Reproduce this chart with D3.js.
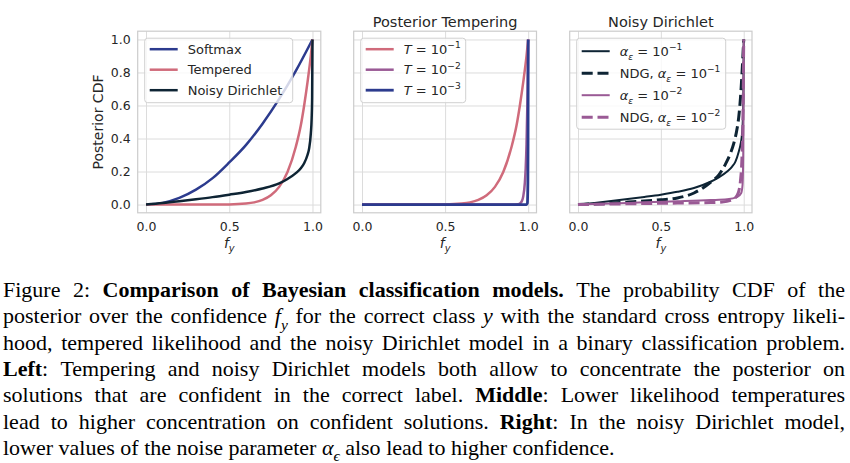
<!DOCTYPE html>
<html>
<head>
<meta charset="utf-8">
<script src="https://cdn.jsdelivr.net/npm/d3@7"></script>
<style>
  body { margin: 0; background: #fff; }
  svg { display: block; }
</style>
</head>
<body>
<svg id="fig" width="850" height="463"></svg>
<script>
// ---- data ----
const xTickValues = [0, 0.5, 1];
const yTickValues = [0, 0.2, 0.4, 0.6, 0.8, 1];

// left: posterior CDF of the three models
const softmaxFy  = [0, 0.1, 0.2, 0.3, 0.4, 0.5, 0.6, 0.7, 0.8, 0.9, 1.0];
const softmaxCdf = [0, 0.01, 0.04, 0.09, 0.16, 0.255, 0.36, 0.49, 0.64, 0.81, 1.0];

const temperedFy  = [0, 0.3, 0.5, 0.6, 0.65, 0.7, 0.75, 0.8, 0.85, 0.9, 0.93, 0.95, 0.97, 0.99, 1.0];
const temperedCdf = [0, 0, 0.001, 0.006, 0.013, 0.028, 0.056, 0.107, 0.197, 0.35, 0.48, 0.6, 0.74, 0.9, 1.0];

const noisyFy  = [0, 0.1, 0.2, 0.3, 0.4, 0.5, 0.6, 0.7, 0.8, 0.85, 0.9, 0.93, 0.95, 0.97, 0.98, 0.99, 0.995, 0.998, 1.0];
const noisyCdf = [0, 0.009, 0.02, 0.032, 0.045, 0.06, 0.076, 0.097, 0.128, 0.155, 0.19, 0.22, 0.25, 0.3, 0.34, 0.43, 0.52, 0.65, 1.0];

// middle: tempering at three temperatures (T = 1e-1 is the tempered curve above)
const temp2Fy  = [0, 0.9, 0.94, 0.96, 0.97, 0.98, 0.985, 0.99, 0.995, 1.0];
const temp2Cdf = [0, 0, 0.002, 0.017, 0.048, 0.133, 0.22, 0.366, 0.606, 1.0];
const temp3Fy  = [0, 0.99, 0.995, 0.998, 0.999, 1.0];
const temp3Cdf = [0, 0, 0.007, 0.135, 0.368, 1.0];

// right: noisy Dirichlet and its Gaussian approximation (NDG)
const nd1Fy  = [0, 0.1, 0.2, 0.3, 0.4, 0.5, 0.6, 0.7, 0.8, 0.85, 0.9, 0.93, 0.95, 0.97, 0.98, 0.99, 0.995, 0.998, 1.0];
const nd1Cdf = [0, 0.01, 0.021, 0.033, 0.046, 0.06, 0.077, 0.1, 0.138, 0.165, 0.2, 0.23, 0.26, 0.32, 0.36, 0.43, 0.52, 0.65, 1.0];
const ndg1Fy  = [0, 0.1, 0.2, 0.3, 0.4, 0.5, 0.6, 0.7, 0.8, 0.85, 0.89, 0.92, 0.94, 0.96, 0.97, 0.98, 0.99, 1.0];
const ndg1Cdf = [0, 0.004, 0.009, 0.015, 0.021, 0.029, 0.04, 0.07, 0.135, 0.18, 0.245, 0.31, 0.37, 0.46, 0.53, 0.64, 0.8, 1.0];
const nd2Fy  = [0, 0.2, 0.4, 0.6, 0.8, 0.9, 0.96, 0.985, 0.993, 0.997, 1.0];
const nd2Cdf = [0, 0.006, 0.014, 0.02, 0.027, 0.032, 0.045, 0.07, 0.12, 0.3, 1.0];
const ndg2Fy  = [0, 0.2, 0.4, 0.6, 0.8, 0.87, 0.92, 0.94, 0.96, 0.97, 0.98, 0.99, 0.995, 1.0];
const ndg2Cdf = [0, 0.003, 0.006, 0.009, 0.012, 0.015, 0.025, 0.035, 0.055, 0.08, 0.14, 0.3, 0.5, 1.0];

const captionLines = [
  "Figure 2: <b>Comparison of Bayesian classification models.</b> The probability CDF of the",
  "posterior over the confidence <i>f</i><sub>y</sub> for the correct class <i>y</i> with the standard cross entropy likeli-",
  "hood, tempered likelihood and the noisy Dirichlet model in a binary classification problem.",
  "<b>Left</b>: Tempering and noisy Dirichlet models both allow to concentrate the posterior on",
  "solutions that are confident in the correct label. <b>Middle</b>: Lower likelihood temperatures",
  "lead to higher concentration on confident solutions. <b>Right</b>: In the noisy Dirichlet model,",
  "lower values of the noise parameter <i>α</i><sub>ϵ</sub> also lead to higher confidence."
];

// ---- styles ----
const blue = "#2c3b8e", pink = "#d06b7b", navy = "#0e2434", purple = "#9a5a95";
const sans = "DejaVu Sans, sans-serif";
const ink = "#262626";

const zip = (xs, ys) => xs.map((v, i) => [v, ys[i]]);

// legend labels: arrays of [style, text] pieces (n normal, i italic, sub, sup)
const tLabel = e => [["i", "T"], ["n", " = 10"], ["sup", "−" + e]];
const aLabel = (pre, e) => (pre ? [["n", pre]] : []).concat([["i", "α"], ["sub", "ε"], ["n", " = 10"], ["sup", "−" + e]]);

const panels = [
  {
    x0: 137.7, x1: 320.8, title: null, yTicks: true, legendW: 148, legendRow: 20.5,
    series: [
      {data: zip(softmaxFy, softmaxCdf), color: blue, w: 2.5, label: [["n", "Softmax"]]},
      {data: zip(temperedFy, temperedCdf), color: pink, w: 2.5, label: [["n", "Tempered"]]},
      {data: zip(noisyFy, noisyCdf), color: navy, w: 2.5, label: [["n", "Noisy Dirichlet"]]}
    ]
  },
  {
    x0: 353.7, x1: 536.5, title: "Posterior Tempering", legendW: 105, legendRow: 20.5,
    series: [
      {data: zip(temperedFy, temperedCdf), color: pink, w: 2.5, label: tLabel(1)},
      {data: zip(temp2Fy, temp2Cdf), color: purple, w: 2.5, label: tLabel(2)},
      {data: zip(temp3Fy, temp3Cdf), color: blue, w: 2.8, label: tLabel(3)}
    ]
  },
  {
    x0: 569.7, x1: 752, title: "Noisy Dirichlet", legendW: 149, legendRow: 22,
    series: [
      {data: zip(nd1Fy, nd1Cdf), color: navy, w: 2, label: aLabel(null, 1)},
      {data: zip(ndg1Fy, ndg1Cdf), color: navy, w: 3, dash: "11,4.8", label: aLabel("NDG, ", 1)},
      {data: zip(nd2Fy, nd2Cdf), color: purple, w: 2, label: aLabel(null, 2)},
      {data: zip(ndg2Fy, ndg2Cdf), color: purple, w: 3, dash: "11,4.8", label: aLabel("NDG, ", 2)}
    ]
  }
];

const svg = d3.select("#fig");
const yTop = 31.2, yBottom = 212.8;
const y = d3.scaleLinear().domain([-0.05, 1.05]).range([yBottom, yTop]);

let addPieces = (textSel, pieces, base) => {
    let shift = 0;
    pieces.forEach(([style, txt]) => {
        const ts = textSel.append("tspan").text(txt);
        if (style === "i" || style === "sub") ts.attr("font-style", "italic");
        if (style === "b") ts.attr("font-weight", "bold");
        let want = style === "sub" ? base * 0.3 : style === "sup" ? -base * 0.42 : 0;
        if (style === "sub" || style === "sup") ts.attr("font-size", base * 0.7);
        if (want !== shift) { ts.attr("dy", want - shift); shift = want; }
    });
};

panels.forEach(p => {
    const x = d3.scaleLinear().domain([-0.05, 1.05]).range([p.x0, p.x1]);
    const g = svg.append("g").attr("font-family", sans);

    // grid
    g.append("g").attr("transform", `translate(0,${yBottom})`)
        .call(d3.axisBottom(x).tickValues(xTickValues).tickSize(-(yBottom - yTop)).tickFormat(""))
        .call(a => a.select(".domain").remove())
        .selectAll("line").attr("stroke", "#dcdcdc").attr("stroke-width", 1);
    g.append("g").attr("transform", `translate(${p.x0},0)`)
        .call(d3.axisLeft(y).tickValues(yTickValues).tickSize(-(p.x1 - p.x0)).tickFormat(""))
        .call(a => a.select(".domain").remove())
        .selectAll("line").attr("stroke", "#dcdcdc").attr("stroke-width", 1);

    // frame
    g.append("rect")
        .attr("x", p.x0).attr("y", yTop)
        .attr("width", p.x1 - p.x0).attr("height", yBottom - yTop)
        .attr("fill", "none").attr("stroke", "#cccccc").attr("stroke-width", 1.2);

    // tick labels
    const xa = g.append("g").attr("transform", `translate(0,${yBottom})`)
        .call(d3.axisBottom(x).tickValues(xTickValues).tickFormat(d3.format(".1f")).tickSize(0));
    xa.select(".domain").remove();
    xa.selectAll("text").attr("y", 18.6).attr("dy", 0)
        .attr("font-family", sans).attr("font-size", 12.5).attr("fill", ink);

    if (p.yTicks) {
        const ya = g.append("g").attr("transform", `translate(${p.x0},0)`)
            .call(d3.axisLeft(y).tickValues(yTickValues).tickFormat(d3.format(".1f")).tickSize(0).tickPadding(7));
        ya.select(".domain").remove();
        ya.selectAll("text").attr("font-family", sans).attr("font-size", 12.5).attr("fill", ink);
        g.append("text")
            .attr("transform", `translate(103,${(yTop + yBottom) / 2}) rotate(-90)`)
            .attr("text-anchor", "middle").attr("font-size", 14).attr("fill", ink)
            .text("Posterior CDF");
    }

    // x label f_y
    const xl = g.append("text")
        .attr("x", x(0.5)).attr("y", 248)
        .attr("text-anchor", "middle").attr("font-size", 14).attr("fill", ink);
    addPieces(xl, [["i", "f"], ["sub", "y"]], 14);

    if (p.title) {
        g.append("text")
            .attr("x", x(0.5)).attr("y", 26.5)
            .attr("text-anchor", "middle").attr("font-size", 14.5).attr("fill", ink)
            .text(p.title);
    }

    // curves
    const line = d3.line().x(d => x(d[0])).y(d => y(d[1])).curve(d3.curveMonotoneX);
    g.selectAll("path.curve").data(p.series).join("path")
        .attr("class", "curve")
        .attr("d", s => line(s.data))
        .attr("fill", "none")
        .attr("stroke", s => s.color)
        .attr("stroke-width", s => s.w)
        .attr("stroke-dasharray", s => s.dash || null)
        .attr("stroke-linejoin", "round");

    // legend
    const lx = p.x0 + 7, ly = yTop + 7;
    const lh = p.series.length * p.legendRow + 3;
    const lg = g.append("g");
    lg.append("rect")
        .attr("x", lx).attr("y", ly).attr("width", p.legendW).attr("height", lh)
        .attr("rx", 3).attr("fill", "#fff").attr("fill-opacity", 0.8)
        .attr("stroke", "#d0d0d0").attr("stroke-width", 1);
    p.series.forEach((s, i) => {
        const cy = ly + 11 + i * p.legendRow + (p.legendRow > 21 ? 2 : 0);
        lg.append("line")
            .attr("x1", lx + 5).attr("x2", lx + 33).attr("y1", cy).attr("y2", cy)
            .attr("stroke", s.color).attr("stroke-width", s.w)
            .attr("stroke-dasharray", s.dash || null);
        const t = lg.append("text")
            .attr("x", lx + 43).attr("y", cy + 4.6)
            .attr("font-size", 13).attr("fill", ink);
        addPieces(t, s.label, 13);
    });
});

// ---- caption, justified word by word ----
const capFont = "Liberation Serif, Times New Roman, serif";
const capSize = 22;
const capLeft = 3, capRight = 845;
const cap = svg.append("g").attr("font-family", capFont).attr("font-size", capSize).attr("fill", "#000");

let parseLine = (str) => {
    const parts = str.split(/(<\/?(?:b|i|sub)>)/);
    let style = "n";
    const words = [[]];
    parts.forEach(part => {
        const m = part.match(/^<(\/?)(b|i|sub)>$/);
        if (m) { style = m[1] ? "n" : m[2]; return; }
        part.split(" ").forEach((w, k) => {
            if (k > 0) words.push([]);
            if (w) words[words.length - 1].push([style, w]);
        });
    });
    return words.filter(w => w.length);
};

const probe = cap.append("text").text("a a");
const probe2 = cap.append("text").text("aa");
const spaceW = probe.node().getComputedTextLength() - probe2.node().getComputedTextLength();
probe.remove(); probe2.remove();

captionLines.forEach((str, i) => {
    const baseline = 297 + i * 26.3;
    const words = parseLine(str);
    const nodes = words.map(w => {
        const t = cap.append("text").attr("y", baseline);
        addPieces(t, w, capSize);
        return t;
    });
    const widths = nodes.map(n => n.node().getComputedTextLength());
    const last = i === captionLines.length - 1;
    const gap = last ? spaceW : (capRight - capLeft - d3.sum(widths)) / (nodes.length - 1);
    let xPos = capLeft;
    nodes.forEach((n, k) => { n.attr("x", xPos); xPos += widths[k] + gap; });
});
</script>
</body>
</html>
